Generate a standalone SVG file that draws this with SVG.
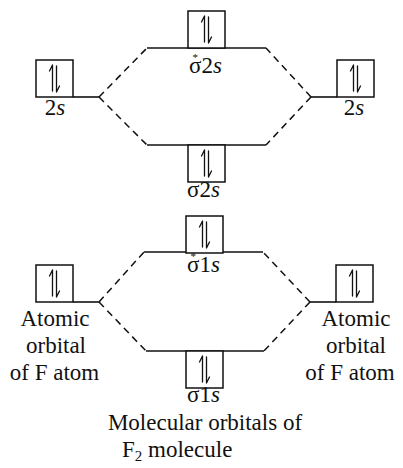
<svg xmlns="http://www.w3.org/2000/svg" xmlns:xlink="http://www.w3.org/1999/xlink" width="403" height="468" viewBox="0 0 403 468">
<style>
.t{font-family:"Liberation Serif","Times New Roman",serif;font-size:23px;fill:#111}
.i{font-style:italic}
.st{font-size:11px}
.ln{stroke:#111;stroke-width:1.6;fill:none}
.ds{stroke:#111;stroke-width:1.5;fill:none;stroke-dasharray:7 5}
.bx{stroke:#111;stroke-width:1.5;fill:#fff}
.hp{stroke:#111;stroke-width:1.3;fill:none;stroke-linecap:round;stroke-linejoin:round}
</style>
<defs>
<g id="orb">
<rect class="bx" x="0" y="0" width="37" height="37"/>
<path class="hp" d="M16.5 31 V5 L13.5 11"/>
<path class="hp" d="M20.5 6 V32 L23.5 26"/>
</g>
</defs>
<rect width="403" height="468" fill="#fff"/>
<g id="connectors">
<line class="ln" x1="73" y1="97" x2="99" y2="97"/>
<line class="ln" x1="311" y1="97" x2="337" y2="97"/>
<line class="ln" x1="147" y1="48" x2="266" y2="48"/>
<line class="ln" x1="147" y1="145" x2="266" y2="145"/>
<line class="ds" x1="99" y1="97" x2="147" y2="48"/>
<line class="ds" x1="99" y1="97" x2="147" y2="145"/>
<line class="ds" x1="311" y1="97" x2="266" y2="48"/>
<line class="ds" x1="311" y1="97" x2="266" y2="145"/>
<line class="ln" x1="73" y1="302" x2="99" y2="302"/>
<line class="ln" x1="310" y1="302" x2="336" y2="302"/>
<line class="ln" x1="144" y1="252" x2="263" y2="252"/>
<line class="ln" x1="146" y1="351" x2="264" y2="351"/>
<line class="ds" x1="99" y1="302" x2="144" y2="252"/>
<line class="ds" x1="99" y1="302" x2="146" y2="351"/>
<line class="ds" x1="310" y1="302" x2="263" y2="252"/>
<line class="ds" x1="310" y1="302" x2="264" y2="351"/>
</g>
<g id="left2s">
<use xlink:href="#orb" x="36" y="60"/>
<text class="t" x="55" y="115" text-anchor="middle">2<tspan class="i">s</tspan></text>
</g>
<g id="right2s">
<use xlink:href="#orb" x="337" y="60"/>
<text class="t" x="354" y="115" text-anchor="middle">2<tspan class="i">s</tspan></text>
</g>
<g id="sigmastar2s">
<use xlink:href="#orb" x="188" y="11"/>
<text class="t" x="189" y="73">σ<tspan class="st" dx="-9" dy="-12">*</tspan><tspan dx="3.5" dy="12">2</tspan><tspan class="i">s</tspan></text>
</g>
<g id="sigma2s">
<use xlink:href="#orb" x="188" y="145"/>
<text class="t" x="187" y="197">σ2<tspan class="i">s</tspan></text>
</g>
<g id="left1s">
<use xlink:href="#orb" x="36" y="265"/>
<text class="t" x="55" y="326" text-anchor="middle">Atomic</text>
<text class="t" x="56" y="353" text-anchor="middle">orbital</text>
<text class="t" x="54.5" y="380" text-anchor="middle">of F atom</text>
</g>
<g id="right1s">
<use xlink:href="#orb" x="336" y="265"/>
<text class="t" x="356" y="326" text-anchor="middle">Atomic</text>
<text class="t" x="356" y="353" text-anchor="middle">orbital</text>
<text class="t" x="350" y="380" text-anchor="middle">of F atom</text>
</g>
<g id="sigmastar1s">
<use xlink:href="#orb" x="186" y="216"/>
<text class="t" x="187" y="272">σ<tspan class="st" dx="-9" dy="-12">*</tspan><tspan dx="3.5" dy="12">1</tspan><tspan class="i">s</tspan></text>
</g>
<g id="sigma1s">
<use xlink:href="#orb" x="186" y="351"/>
<text class="t" x="187" y="402">σ1<tspan class="i">s</tspan></text>
</g>
<g id="caption">
<text class="t" x="205" y="430" text-anchor="middle">Molecular orbitals of</text>
<text class="t" x="122" y="457">F<tspan font-size="15" dy="4">2</tspan><tspan dy="-4"> molecule</tspan></text>
</g>
</svg>
